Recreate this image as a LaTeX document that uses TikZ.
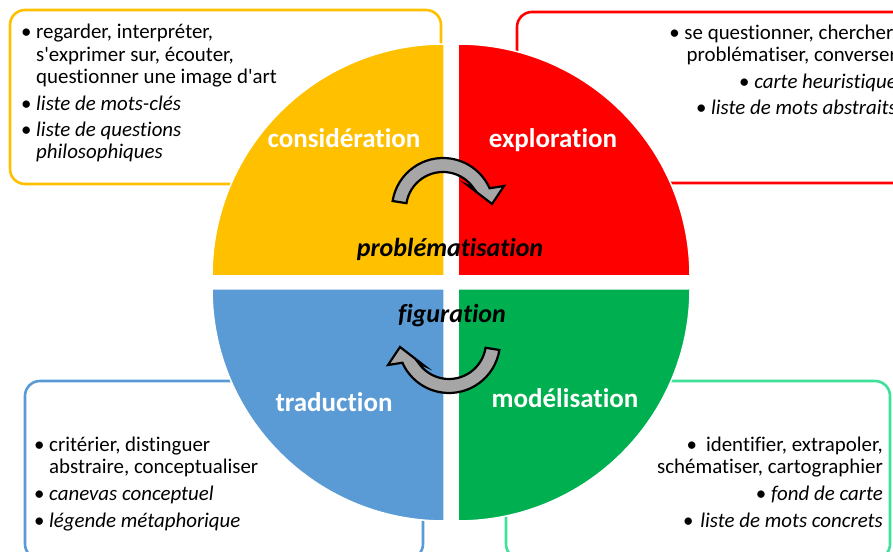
\documentclass[tikz,border=0pt]{standalone}
\usepackage{fontspec}
\setmainfont{Carlito}[Ligatures=NoCommon]
\usepackage{tikz}
\usetikzlibrary{calc}
\definecolor{jaune}{HTML}{FFC000}
\definecolor{rouge}{HTML}{FF0000}
\definecolor{bleu}{HTML}{5B9BD5}
\definecolor{vert}{HTML}{00B050}
\definecolor{menthe}{HTML}{3EE09A}
\definecolor{grisfl}{HTML}{A6A6A6}
\newcommand{\bul}{\makebox[15pt][l]{\textbullet}}
\newcommand{\ind}{\hspace*{15pt}}

\begin{document}
\begin{tikzpicture}[x=1pt,y=1pt,
  cadre/.style={line width=2.6pt,rounded corners=15pt,fill=white},
  quart/.style={draw=white,line width=1.5pt},
  etiq/.style={text=white,font=\fontsize{27}{32}\selectfont\bfseries,inner sep=0pt},
  axe/.style={font=\fontsize{26}{31}\selectfont\bfseries\itshape,inner sep=0pt},
  liste/.style={font=\fontsize{20.9}{22.2}\selectfont,inner sep=0pt},
  fleche/.style={fill=grisfl,draw=black,line width=2.2pt,line join=miter}]
\useasboundingbox (0,0) rectangle (893,551);
\clip (0,0) rectangle (893,551);
% cadres
\draw[cadre,draw=jaune] (10,367) rectangle (441,541);
\draw[cadre,draw=rouge] (517,368) rectangle (915,539);
\draw[cadre,draw=bleu] (25,-8) rectangle (423,170);
\draw[cadre,draw=menthe] (506,-8) rectangle (890,170);
% quarts de disque
\fill[quart,fill=jaune] (444,275) -- (212,275) arc[start angle=180,end angle=90,radius=232] -- cycle;
\fill[quart,fill=rouge] (458,275) -- (458,507) arc[start angle=90,end angle=0,radius=232] -- cycle;
\fill[quart,fill=bleu] (444,262) -- (212,262) arc[start angle=180,end angle=270,radius=232] -- cycle;
\fill[quart,fill=vert] (458,262) -- (458,30) arc[start angle=270,end angle=360,radius=232] -- cycle;
% fleches
\begin{scope}[shift={(443,342)}]
\draw[fleche] (171:51) arc[start angle=171,end angle=24,radius=51] -- (61,23) -- (49,5) -- (25,23.5) -- (34.6:37) arc[start angle=34.6,end angle=171,radius=37] -- cycle;
\end{scope}
\begin{scope}[shift={(449,209)},rotate=180]
\draw[fleche] (171:51) arc[start angle=171,end angle=24,radius=51] -- (61,23) -- (49,5) -- (25,23.5) -- (34.6:37) arc[start angle=34.6,end angle=171,radius=37] -- cycle;
\end{scope}
% etiquettes
\node[etiq,anchor=base] (consid) at (344,403) {considération};
\node[etiq,anchor=base] (explo) at (553,403) {exploration};
\node[etiq,anchor=base] (trad) at (334,139) {traduction};
\node[etiq,anchor=base] (model) at (565,143) {modélisation};
\node[axe,anchor=base] (probl) at (450,294) {problématisation};
\node[axe,anchor=base] (figur) at (452,228) {figuration};
% listes (ancre sur la derniere ligne)
\node[liste,align=left,anchor=base west] (lconsid) at (21,392) {\bul regarder, interpréter,\\ \ind s\textquotesingle exprimer sur, écouter,\\ \ind questionner une image d\textquotesingle art\\[4.5pt]
  \bul\textit{liste de mots-clés}\\[4.5pt] \bul\textit{liste de questions}\\ \ind\textit{philosophiques}};
\node[liste,align=right,anchor=base east] (lexplo) at (897,436) {\textbullet\ se questionner, chercher,\\ problématiser, converser\\[4.5pt]
  \textbullet\ \textit{carte heuristique}\\[4.5pt] \textbullet\ \textit{liste de mots abstraits}};
\node[liste,align=left,anchor=base west] (ltrad) at (34,24) {\bul critérier, distinguer\\ \ind abstraire, conceptualiser\\[4.5pt]
  \bul\textit{canevas conceptuel}\\[4.5pt] \bul\textit{légende métaphorique}};
\node[liste,align=right,anchor=base east] (lmodel) at (883,24) {\textbullet\hspace{9pt}identifier, extrapoler,\\ schématiser, cartographier\\[4.5pt]
  \textbullet\ \textit{fond de carte}\\[4.5pt] \textbullet\hspace{7pt}\textit{liste de mots concrets}};
\end{tikzpicture}
\end{document}
